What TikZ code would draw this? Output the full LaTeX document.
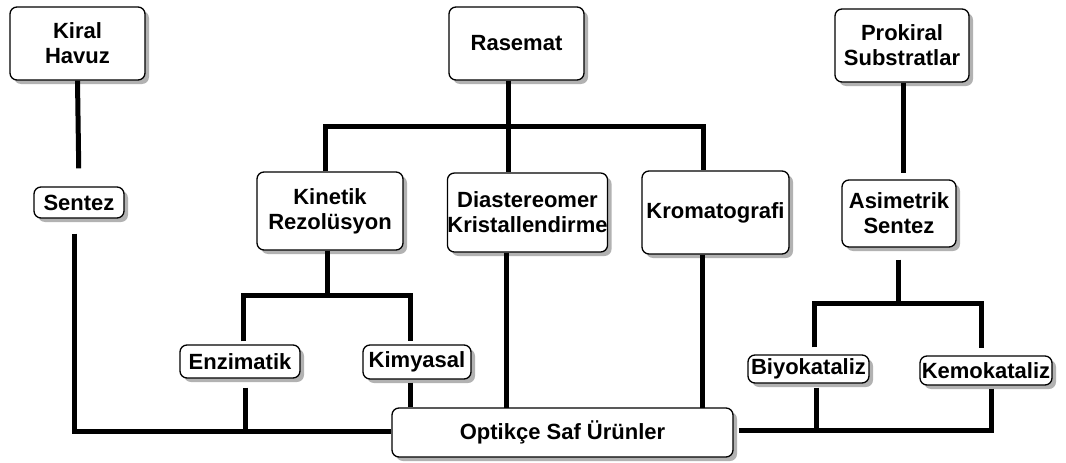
\documentclass[tikz,border=0pt]{standalone}
\usepackage{fontspec}
\setmainfont{Liberation Sans}
\usetikzlibrary{shadows,calc}
\begin{document}
\begin{tikzpicture}[x=1pt,y=-1pt,
 box/.style={draw, line width=1.3pt, rounded corners=7pt, fill=white, align=center,
   font=\bfseries\fontsize{22}{25}\selectfont, inner sep=0pt,
   drop shadow={shadow xshift=4pt, shadow yshift=-4pt, fill=black!30, opacity=1}},
 conn/.style={line width=5pt, line join=miter}]
\useasboundingbox (0,0) rectangle (1066,463);
% nodes
\node[box, minimum width=135pt, minimum height=73pt] (kiral) at (77.5,43.5) {Kiral\\Havuz};
\node[box, minimum width=135pt, minimum height=73pt] (ras) at (516.5,43.5) {Rasemat};
\node[box, minimum width=134pt, minimum height=73pt] (pro) at (902,45.5) {Prokiral\\Substratlar};
\node[box, minimum width=90pt, minimum height=31pt] (sen) at (79,202.5) {Sentez};
\node[box, minimum width=146pt, minimum height=78pt] (kin) at (330,211) {Kinetik\\Rezolüsyon};
\node[box, minimum width=159pt, minimum height=79pt] (dia) at (527.5,212.5) {Diastereomer\\Kristallendirme};
\node[box, minimum width=147pt, minimum height=83pt] (kro) at (715.5,212.5) {Kromatografi};
\node[box, minimum width=114pt, minimum height=67pt] (asi) at (899,213.5) {Asimetrik\\Sentez};
\node[box, minimum width=120pt, minimum height=33pt] (enz) at (240,361.5) {Enzimatik};
\node[box, minimum width=108pt, minimum height=34pt] (kim) at (417,362) {Kimyasal};
\node[box, minimum width=121pt, minimum height=28pt] (biy) at (808.5,369) {Biyokataliz};
\node[box, minimum width=132pt, minimum height=29pt] (kem) at (986,370.5) {Kemokataliz};
\node[box, minimum width=341pt, minimum height=49pt] (opt) at (562.5,432.5) {Optikçe Saf Ürünler};
% junction coordinates
\coordinate (bl) at (74,431);
\coordinate (rL) at (325,126);
\coordinate (rM) at (508,126);
\coordinate (rR) at (703,126);
\coordinate (dB) at (506,408);
\coordinate (kB) at (702,408);
\coordinate (kL) at (243,295);
\coordinate (kM) at (327,295);
\coordinate (kR) at (410,295);
\coordinate (eB) at (245,431);
\coordinate (pX) at (903,126);
\coordinate (aL) at (814,303);
\coordinate (aM) at (898,303);
\coordinate (aR) at (981,303);
\coordinate (bB) at (816,430);
\coordinate (cB) at (991,430);
\coordinate (oR) at (739,430);
% connectors
\draw[conn, shorten >=18pt] (kiral.south) -- (sen.north);
\draw[conn, shorten <=15pt] (sen.south -| bl) -- (bl) -- (opt.west |- bl);
\draw[conn, shorten <=9pt] (enz.south -| eB) -- (eB);
\draw[conn] (ras.south -| rM) -- (rM);
\draw[conn] (kin.north -| rL) -- (rL) -- (rR) -- (kro.north -| rR);
\draw[conn] (rM) -- (dia.north -| rM);
\draw[conn] (dia.south -| dB) -- (dB);
\draw[conn] (kro.south -| kB) -- (kB);
\draw[conn] (kin.south -| kM) -- (kM);
\draw[conn, shorten <=3pt, shorten >=3pt] (enz.north -| kL) -- (kL) -- (kR) -- (kim.north -| kR);
\draw[conn, shorten <=3pt] (kim.south -| kR) -- (opt.north -| kR);
\draw[conn, shorten >=6pt] (pro.south -| pX) -- (asi.north -| pX);
\draw[conn, shorten <=12pt] (asi.south -| aM) -- (aM);
\draw[conn, shorten <=7pt, shorten >=7pt] (biy.north -| aL) -- (aL) -- (aR) -- (kem.north -| aR);
\draw[conn, shorten <=4pt] (biy.south -| bB) -- (bB);
\draw[conn, shorten <=3pt] (kem.south -| cB) -- (cB) -- (oR);
\end{tikzpicture}
\end{document}
